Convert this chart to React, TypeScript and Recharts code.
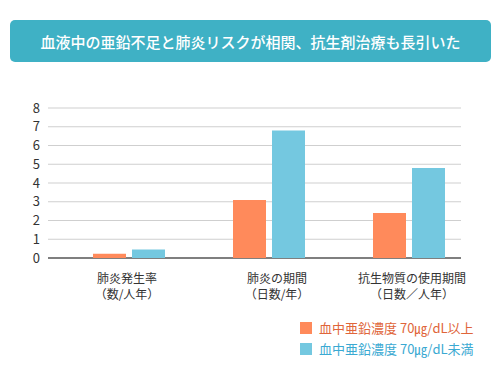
import React from 'react';
import { BarChart, Bar, XAxis, YAxis, CartesianGrid } from 'recharts';

// categories (two-line labels)
const categories = ['肺炎発生率', '肺炎の期間', '抗生物質の使用期間'];
const categoryUnits = ['（数/人年）', '（日数/年）', '（日数／人年）'];

// series values
const highZinc = [0.23, 3.1, 2.4];
const lowZinc = [0.45, 6.8, 4.8];

const yTicks = [0, 1, 2, 3, 4, 5, 6, 7, 8];

const seriesNames = ['血中亜鉛濃度 70㎍/dL以上', '血中亜鉛濃度 70㎍/dL未満'];
const seriesColors = ['#ff8a5b', '#74c8e0'];
const legendTextColors = ['#e0653a', '#3aa9d2'];

const FONT = '"Noto Sans CJK JP", "Noto Sans", sans-serif';
const CHART_H = 371;
const MARGIN = { top: 108, right: 21, bottom: 72, left: 0 };
const XAXIS_H = 41;
const PLOT_BOTTOM = CHART_H - MARGIN.bottom - XAXIS_H;

const data = categories.map((c, i) => ({
  name: c,
  unit: categoryUnits[i],
  high: highZinc[i],
  low: lowZinc[i],
}));

const labelNudge = [-2, 8, 3];

const CategoryTick = (props: any) => {
  const { x, y, payload, index } = props;
  const dx = labelNudge[index] || 0;
  return (
    <g transform={`translate(${x + dx},${y})`}>
      <text textAnchor="middle" y={17} fontSize={12} fill="#333" fontFamily={FONT}>
        {payload.value}
      </text>
      <text textAnchor="middle" y={33} fontSize={12} fill="#333" fontFamily={FONT}>
        {categoryUnits[index]}
      </text>
    </g>
  );
};

const GridLine = (props: any) => {
  const { x1, x2, y1 } = props;
  const isBase = Math.abs(y1 - PLOT_BOTTOM) < 1;
  return (
    <line
      key={props.key}
      x1={x1 - 11}
      x2={x2 - 18}
      y1={y1}
      y2={y1}
      stroke={isBase ? '#555' : '#cfcfcf'}
      strokeWidth={isBase ? 1.5 : 1}
    />
  );
};

export default function App() {
  return (
    <div style={{ position: 'relative', width: 500, height: 371, background: '#fff' }}>
      <style>{'body{margin:0}'}</style>
      <div
        style={{
          position: 'absolute',
          left: 10,
          top: 20,
          width: 481,
          height: 42,
          borderRadius: 5,
          background: '#3fb1c5',
          color: '#fff',
          fontFamily: FONT,
          fontSize: 15,
          fontWeight: 500,
          display: 'flex',
          alignItems: 'center',
          justifyContent: 'center',
          zIndex: 1,
        }}
      >
        血液中の亜鉛不足と肺炎リスクが相関、抗生剤治療も長引いた
      </div>
      <BarChart
        width={500}
        height={CHART_H}
        data={data}
        margin={MARGIN}
        barSize={33}
        barGap={6}
        style={{ position: 'absolute', left: 0, top: 0 }}
      >
        <CartesianGrid vertical={false} horizontal={GridLine} />
        <XAxis
          dataKey="name"
          height={XAXIS_H}
          axisLine={false}
          tickLine={false}
          interval={0}
          tick={<CategoryTick />}
        />
        <YAxis
          width={59}
          domain={[0, 8]}
          ticks={yTicks}
          interval={0}
          axisLine={false}
          tickLine={false}
          tickMargin={13}
          tick={{ fontSize: 13, fill: '#333', fontFamily: FONT }}
        />
        <Bar dataKey="high" name={seriesNames[0]} fill={seriesColors[0]} isAnimationActive={false} />
        <Bar dataKey="low" name={seriesNames[1]} fill={seriesColors[1]} isAnimationActive={false} />
      </BarChart>
      <div style={{ position: 'absolute', left: 300, top: 317, fontFamily: FONT }}>
        {seriesNames.map((n, i) => (
          <div key={n} style={{ display: 'flex', alignItems: 'center', height: 21 }}>
            <div style={{ width: 12, height: 12, background: seriesColors[i], marginRight: 7 }} />
            <span style={{ fontSize: 13, color: legendTextColors[i] }}>{n}</span>
          </div>
        ))}
      </div>
    </div>
  );
}
